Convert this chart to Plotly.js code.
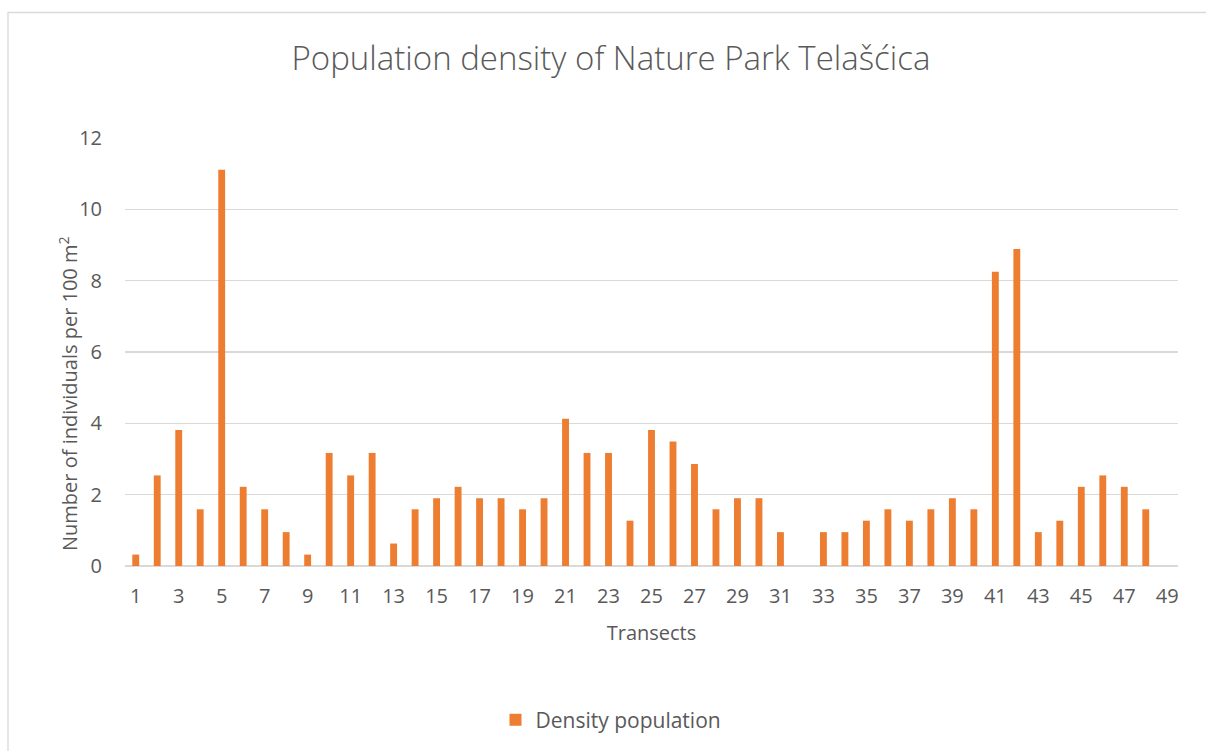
<!DOCTYPE html>
<html>
<head>
<meta charset="utf-8">
<script src="https://cdn.plot.ly/plotly-3.0.1.min.js"></script>
<style>
html,body{margin:0;padding:0;background:#fff;}
#chart{width:1206px;height:751px;}
</style>
</head>
<body>
<div id="chart"></div>
<script>
const transects = [1,2,3,4,5,6,7,8,9,10,11,12,13,14,15,16,17,18,19,20,21,22,23,24,25,26,27,28,29,30,31,32,33,34,35,36,37,38,39,40,41,42,43,44,45,46,47,48,49];
const density = [0.32,2.54,3.81,1.59,11.11,2.22,1.59,0.95,0.32,3.17,2.54,3.17,0.63,1.59,1.90,2.22,1.90,1.90,1.59,1.90,4.13,3.17,3.17,1.27,3.81,3.49,2.86,1.59,1.90,1.90,0.95,0,0.95,0.95,1.27,1.59,1.27,1.59,1.90,1.59,8.25,8.89,0.95,1.27,2.22,2.54,2.22,1.59,null];
const xTicks = [1,3,5,7,9,11,13,15,17,19,21,23,25,27,29,31,33,35,37,39,41,43,45,47,49];
const yTicks = [0,2,4,6,8,10,12];

const FONT = '"Open Sans", "Noto Sans", sans-serif';
const GREY = '#595959';

const trace = {
  type: 'bar',
  x: transects,
  y: density,
  width: 0.32,
  name: 'Density population',
  marker: {color: '#ED7D31'},
  hoverinfo: 'x+y'
};

const layout = {
  width: 1206,
  height: 751,
  paper_bgcolor: '#fff',
  plot_bgcolor: '#fff',
  font: {family: FONT, color: GREY, size: 20},
  margin: {l: 125, r: 28, t: 138, b: 185},
  title: {
    text: 'Population density of Nature Park Telašćica',
    font: {family: FONT, size: 33, color: GREY, weight: 300},
    x: 611/1206, xref: 'container', xanchor: 'center',
    y: 1 - 58/751, yref: 'container', yanchor: 'middle'
  },
  xaxis: {
    range: [0.5, 49.5],
    tickvals: xTicks,
    ticktext: xTicks.map(String),
    showgrid: false,
    zeroline: false,
    showline: false,
    ticks: '',
    ticklabelstandoff: 16,
    tickfont: {size: 20, color: GREY},
    title: {text: 'Transects', font: {size: 20, color: GREY}, standoff: 17}
  },
  yaxis: {
    range: [0, 12],
    tickvals: yTicks,
    showgrid: true,
    gridcolor: '#D9D9D9',
    gridwidth: 1.3,
    zeroline: true,
    zerolinecolor: '#D9D9D9',
    zerolinewidth: 1.3,
    showline: false,
    ticks: '',
    ticklabelstandoff: 22,
    tickfont: {size: 20, color: GREY}
  },
  showlegend: true,
  legend: {
    orientation: 'h',
    x: 611/1206, xanchor: 'center', xref: 'container',
    y: 1 - 720/751, yanchor: 'middle', yref: 'container',
    font: {size: 21, color: GREY},
    itemwidth: 30
  },
  annotations: [{
    text: 'Number of individuals per 100 m<sup>2</sup>',
    textangle: -90,
    xref: 'paper', yref: 'paper',
    x: (68-125)/1053, y: (566-394)/428,
    xanchor: 'center', yanchor: 'middle',
    showarrow: false,
    font: {size: 20, color: GREY}
  }],
  shapes: [{
    type: 'rect',
    xref: 'paper', yref: 'paper',
    x0: (8-125)/1053, x1: (1300-125)/1053,
    y0: (566-800)/428, y1: (566-12.5)/428,
    line: {color: '#D9D9D9', width: 1.3},
    fillcolor: 'rgba(0,0,0,0)',
    layer: 'below'
  }],
  bargap: 0.68
};

Plotly.newPlot('chart', [trace], layout, {displayModeBar: false, staticPlot: true});
</script>
</body>
</html>
